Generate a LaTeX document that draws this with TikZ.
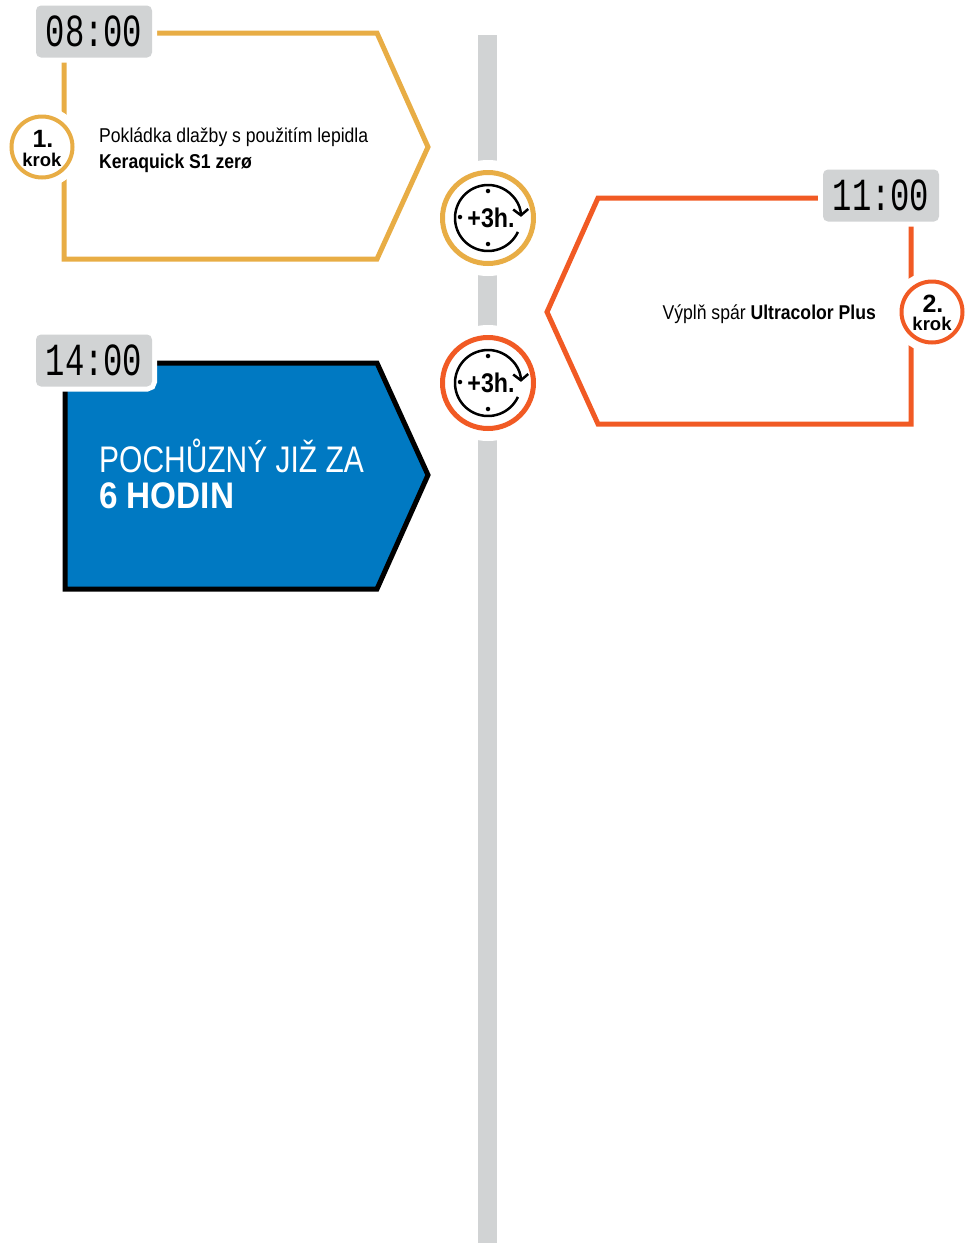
\documentclass[tikz,border=0pt]{standalone}
\usepackage{fontspec}
\setmainfont{Liberation Sans}
\newfontfamily\condf[FakeStretch=0.88]{Liberation Sans}
\newfontfamily\bigcondf[FakeStretch=0.81]{Liberation Sans}
\newfontfamily\bigboldf[FakeStretch=0.9]{Liberation Sans Bold}
\newfontfamily\boldcondf[FakeStretch=0.86]{Liberation Sans Bold}
\newfontfamily\clockf[FakeStretch=0.7]{Liberation Mono}
\usetikzlibrary{arrows.meta}
\definecolor{gold}{HTML}{E8AD45}
\definecolor{orng}{HTML}{F15A24}
\definecolor{lgray}{HTML}{D1D3D4}
\definecolor{mblue}{HTML}{0079C2}
\tikzset{
  timebox/.style={fill=lgray, rounded corners=5, minimum width=116, minimum height=52,
    inner sep=0, text=black, font=\clockf\fontsize{46}{46}\selectfont,
    preaction={draw=white, line width=10, rounded corners=7}},
  stepcirc/.style={circle, draw=#1, fill=white, line width=4, minimum size=61, inner sep=0,
    preaction={draw=white, line width=20}},
  clockring/.style={circle, draw=#1, fill=white, line width=5, minimum size=91, inner sep=0,
    preaction={draw=white, line width=25}},
  boxline/.style={line width=5, miter limit=10},
  bodytext/.style={anchor=base west, inner sep=0, font=\condf\fontsize{20}{24}\selectfont},
  bodybold/.style={anchor=base west, inner sep=0, font=\condf\bfseries\fontsize{20}{24}\selectfont},
  stepnum/.style={inner sep=0, font=\bfseries\fontsize{25}{25}\selectfont},
  stepkrok/.style={inner sep=0, font=\bfseries\fontsize{18.5}{18.5}\selectfont},
  clocktext/.style={inner sep=0, font=\boldcondf\fontsize{27}{27}\selectfont},
  clockdot/.style={circle, fill=black, inner sep=0, minimum size=4.5},
}
\begin{document}
\begin{tikzpicture}[x=1pt,y=-1pt]
\path[use as bounding box] (0,0) rectangle (965,1243);
% timeline bar
\fill[lgray] (478,35) rectangle (497,1243);
% box 1
\draw[gold, boxline] (64,259) -- (64,33) -- (377,33) -- (428,147) -- (377,259) -- cycle;
% box 2
\draw[orng, boxline] (911,198) -- (911,424) -- (598,424) -- (547,312) -- (598,198) -- cycle;
% box 3
\draw[black, fill=mblue, boxline] (65,363) -- (377,363) -- (428,475) -- (377,589) -- (65,589) -- cycle;
% time boxes
\node[timebox] (t1) at (94,31.5) {08:00};
\node[timebox] (t2) at (881,195.5) {11:00};
\node[timebox] (t3) at (94,360.5) {14:00};
% step circles
\node[stepcirc=gold] (s1) at (42,147) {};
\node[stepnum] (s1n) at (43,139) {1.};
\node[stepkrok] (s1k) at (42,160) {krok};
\node[stepcirc=orng] (s2) at (932,312) {};
\node[stepnum] (s2n) at (933,304) {2.};
\node[stepkrok] (s2k) at (932,324) {krok};
% texts
\node[bodytext] (l1a) at (99,142) {Pokládka dlažby s použitím lepidla};
\node[bodybold] (l1b) at (99,168) {Keraquick S1 zerø};
\node[anchor=base east, inner sep=0, font=\condf\fontsize{20}{24}\selectfont] (l2) at (876,319) {Výplň spár \textbf{Ultracolor Plus}};
\node[anchor=base west, inner sep=0, text=white, font=\bigcondf\fontsize{37}{37}\selectfont] (l3a) at (99,472) {POCHŮZNÝ JIŽ ZA};
\node[anchor=base west, inner sep=0, text=white, font=\bigboldf\fontsize{37}{37}\selectfont] (l3b) at (99,508) {6 HODIN};
% clocks
\foreach \n/\cy/\col in {c1/218/gold, c2/383/orng}{
  \node[clockring=\col] (\n) at (488,\cy) {};
  \draw[line width=2.5, -{Straight Barb[length=6, width=15, line width=2.5]}]
    ([shift={(25:33)}]\n.center) arc[start angle=25, end angle=358, radius=33];
  \node[clockdot] (\n top) at ([yshift=-26]\n.center) {};
  \node[clockdot] (\n bot) at ([yshift=27]\n.center) {};
  \node[clockdot] (\n lft) at ([xshift=-28,yshift=1]\n.center) {};
  \node[clocktext] (\n txt) at ([xshift=3]\n.center) {+3h.};
}
\end{tikzpicture}
\end{document}
